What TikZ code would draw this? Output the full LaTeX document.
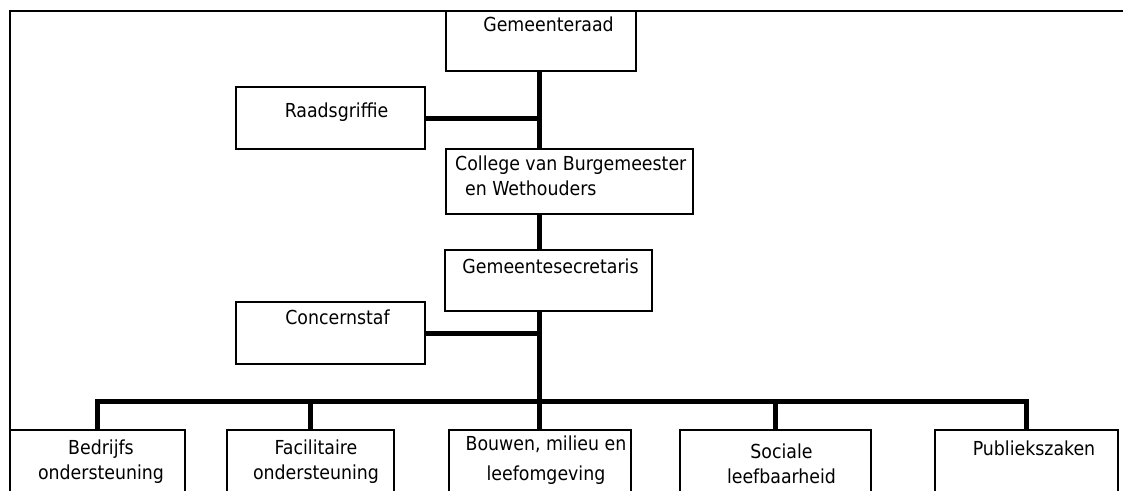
\documentclass[tikz,border=0pt]{standalone}
\usepackage{fontspec}
\setmainfont{DejaVu Sans Condensed}
\begin{document}
\begin{tikzpicture}[x=1pt,y=-1pt,
  box/.style={draw, line width=1.6pt, rectangle, inner sep=0pt},
  lbl/.style={inner sep=0pt, font=\fontsize{19.3}{25}\selectfont, align=center},
  conn/.style={line width=5pt},
  framel/.style={line width=2pt}]
\useasboundingbox (0,0) rectangle (1123,490);
\clip (0,0) rectangle (1123,490);
% frame
\coordinate (fTL) at (10,11);
\coordinate (fTR) at (1130,11);
\coordinate (fBL) at (10,500);
% boxes
\node[box, minimum width=190pt, minimum height=60pt] (G) at (541,41) {};
\node[box, minimum width=189pt, minimum height=62pt] (R) at (330.5,118) {};
\node[box, minimum width=247pt, minimum height=65pt] (C) at (569.5,181.5) {};
\node[box, minimum width=207pt, minimum height=61pt] (S) at (548.5,280.5) {};
\node[box, minimum width=189pt, minimum height=62pt] (K) at (330.5,333) {};
\node[box, minimum width=175pt, minimum height=90pt] (B1) at (97.5,475) {};
\node[box, minimum width=167pt, minimum height=90pt] (B2) at (310.5,475) {};
\node[box, minimum width=182pt, minimum height=90pt] (B3) at (540,475) {};
\node[box, minimum width=191pt, minimum height=90pt] (B4) at (775.5,475) {};
\node[box, minimum width=183pt, minimum height=90pt] (B5) at (1026.5,475) {};
\draw[framel] (fBL) -- (fTL) -- (fTR);
% junctions
\coordinate (jR) at (539,118);
\coordinate (jK) at (539,333);
\coordinate (bus) at (539,401);
% connectors
\draw[conn] (G.south -| jR) -- (C.north -| jR);
\draw[conn] (R.east) -- (jR);
\draw[conn] (C.south -| jR) -- (S.north -| jR);
\draw[conn] (S.south -| jR) -- (B3.north -| jR);
\draw[conn] (K.east) -- (jK);
\draw[conn, line join=miter] (B1.north) -- (B1.north |- bus) -- (B5.north |- bus) -- (B5.north);
\draw[conn] (B2.north |- bus) -- (B2.north);
\draw[conn] (B4.north |- bus) -- (B4.north);
% texts
\node[lbl] (tG) at (548.5,24) {Gemeenteraad};
\node[lbl] (tR) at (336.5,112) {Raadsgriffie};
\node[lbl, align=left, anchor=west] (tC) at (455,175.5) {College van Burgemeester\\\hspace*{10pt}en Wethouders};
\node[lbl] (tS) at (550.5,266) {Gemeentesecretaris};
\node[lbl] (tK) at (337.5,317) {Concernstaf};
\node[lbl] (tB1) at (101,462) {Bedrijfs\\ondersteuning};
\node[lbl] (tB2) at (316,462) {Facilitaire\\ondersteuning};
\node[lbl] (tB3) at (546,460) {Bouwen, milieu en\\[5pt]leefomgeving};
\node[lbl] (tB4) at (781.5,464) {Sociale\\leefbaarheid};
\node[lbl] (tB5) at (1034,448) {Publiekszaken};
\end{tikzpicture}
\end{document}
